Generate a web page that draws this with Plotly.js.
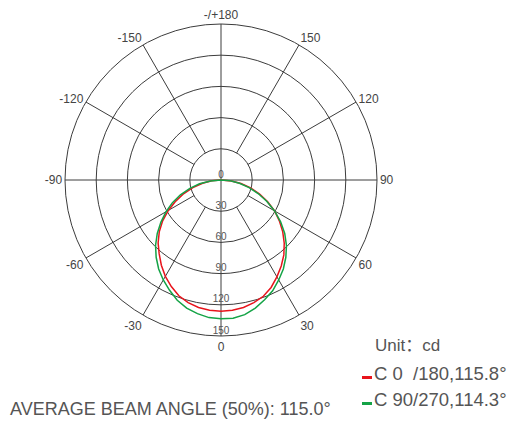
<!DOCTYPE html>
<html>
<head>
<meta charset="utf-8">
<script src="https://cdn.plot.ly/plotly-3.0.1.min.js"></script>
<style>
  html, body { margin: 0; padding: 0; background: #fff; }
  #chart { width: 511px; height: 437px; }
</style>
</head>
<body>
<div id="chart"></div>
<script>
// ---- data ----
const theta = [-90,-85,-80,-75,-70,-65,-60,-55,-50,-45,-40,-35,-30,-25,-20,-15,-10,-5,0,
               5,10,15,20,25,30,35,40,45,50,55,60,65,70,75,80,85,90];
const c0_180 = [0,9,18,28,38,48,58.5,68.5,77.5,85.5,92.5,100,107,113,118.5,122,124.5,125.8,126.2,
                125.8,124.5,122,119,114,107.5,101,94,86,77.5,68.5,59.5,49.5,39.5,29.5,19.5,10,0];
const c90_270 = [0,10,21,31,41.5,51.5,61,70.5,80,89,97,104.5,111,117,123,127.5,130.5,132.8,133.5,
                 133.5,131.5,127.5,122.5,117.5,111,104.5,97,89,80,70,59.5,48.5,38,28,18,9,0];
const seriesNames = ['C 0  /180,115.8°', 'C 90/270,114.3°'];
const seriesColors = ['#e8141c', '#14a346'];
const radialTicks = [0, 30, 60, 90, 120, 150];
const angTickVals = [0, 30, 60, 90, 120, 150, 180, 210, 240, 270, 300, 330];
const angTickText = ['0', '30', '60', '90', '120', '150', '-/+180', '-150', '-120', '-90', '-60', '-30'];
const partialSpokes = [30, 60, 120, 150, 210, 240, 300, 330];
const unitText = 'Unit：cd';
const beamText = 'AVERAGE BEAM ANGLE (50%): 115.0°';

const gridColor = '#3c3c3c';
const RMAX = 150;

// spokes: partial (from first ring to outer) + two full diameters
const spR = [], spT = [];
partialSpokes.forEach(a => { spR.push(radialTicks[1], RMAX, null); spT.push(a, a, null); });
spR.push(RMAX, 0, RMAX, null, RMAX, 0, RMAX);
spT.push(180, 180, 0, null, 90, 90, 270);

const traces = [
  { type: 'scatterpolar', mode: 'lines', r: spR, theta: spT,
    line: { color: gridColor, width: 1 }, hoverinfo: 'skip', showlegend: false, connectgaps: false },
  { type: 'scatterpolar', mode: 'lines', r: c0_180, theta: theta, name: seriesNames[0],
    line: { color: seriesColors[0], width: 1.5 }, showlegend: false },
  { type: 'scatterpolar', mode: 'lines', r: c90_270, theta: theta, name: seriesNames[1],
    line: { color: seriesColors[1], width: 1.5 }, showlegend: false },
  { type: 'scatterpolar', mode: 'text', r: radialTicks, theta: radialTicks.map(() => 0),
    text: radialTicks.map(String), textposition: 'top center',
    textfont: { family: 'Liberation Sans, Arial, sans-serif', size: 10, color: '#555' },
    hoverinfo: 'skip', showlegend: false, cliponaxis: false }
];

const W = 511, H = 437;
const px = x => x / W, py = y => (H - y) / H;
const fam = 'Liberation Sans, Noto Sans CJK SC, Arial, sans-serif';
const txtFont = { family: fam, size: 18.5, color: '#555' };

const layout = {
  width: W, height: H,
  margin: { l: 0, r: 0, t: 0, b: 0 },
  paper_bgcolor: '#fff',
  showlegend: false,
  polar: {
    domain: { x: [px(65), px(377)], y: [py(336), py(24)] },
    bgcolor: '#fff',
    radialaxis: { range: [0, RMAX], tickvals: radialTicks.slice(1), showticklabels: false,
                  ticks: '', showline: false, gridcolor: gridColor, gridwidth: 1 },
    angularaxis: { rotation: -90, direction: 'counterclockwise', tickmode: 'array',
                   tickvals: angTickVals, ticktext: angTickText,
                   showticklabels: true, ticks: '', showgrid: false,
                   tickfont: { family: 'Liberation Sans, Arial, sans-serif', size: 12, color: '#444' },
                   showline: true, linecolor: gridColor, linewidth: 1 }
  },
  annotations: [
    { xref: 'paper', yref: 'paper', x: px(373), y: py(345), xanchor: 'left', yanchor: 'middle',
      text: unitText, showarrow: false, font: { family: fam, size: 17, color: '#555' } },
    { xref: 'paper', yref: 'paper', x: px(372), y: py(373), xanchor: 'left', yanchor: 'middle',
      text: seriesNames[0], showarrow: false, font: txtFont },
    { xref: 'paper', yref: 'paper', x: px(372), y: py(399), xanchor: 'left', yanchor: 'middle',
      text: seriesNames[1], showarrow: false, font: txtFont },
    { xref: 'paper', yref: 'paper', x: px(8), y: py(409), xanchor: 'left', yanchor: 'middle',
      text: beamText, showarrow: false, font: { family: fam, size: 18, color: '#555' } }
  ],
  shapes: [
    { type: 'rect', xref: 'paper', yref: 'paper', x0: px(362), x1: px(372), y0: py(379), y1: py(376),
      fillcolor: seriesColors[0], line: { width: 0 } },
    { type: 'rect', xref: 'paper', yref: 'paper', x0: px(362), x1: px(372), y0: py(405), y1: py(402),
      fillcolor: seriesColors[1], line: { width: 0 } }
  ]
};

Plotly.newPlot('chart', traces, layout, { displayModeBar: false, staticPlot: true });
</script>
</body>
</html>
